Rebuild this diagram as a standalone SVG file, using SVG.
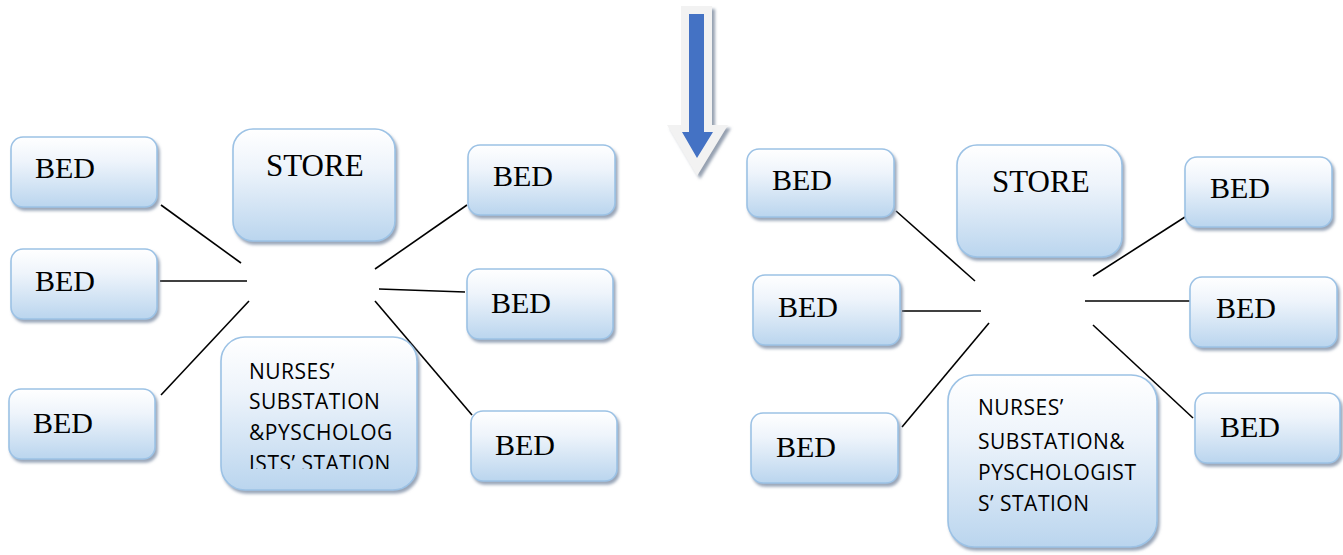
<svg xmlns="http://www.w3.org/2000/svg" width="1343" height="555" viewBox="0 0 1343 555">
<style>
.box{fill:url(#g);stroke:#9cc2e5;stroke-width:1.6;filter:url(#sh)}
.bed{font-family:"Liberation Serif","Times New Roman",serif;font-size:30px;fill:#000}
.store{font-family:"Liberation Serif","Times New Roman",serif;font-size:31px;fill:#000}
.ns{font-family:"Open Sans","Liberation Sans",sans-serif;font-size:21px;letter-spacing:0.5px;fill:#000}
.c line{stroke:#000;stroke-width:1.6}
</style>
<defs>
<linearGradient id="g" x1="0" y1="0" x2="0" y2="1">
<stop offset="0" stop-color="#ffffff"/>
<stop offset="0.35" stop-color="#eef4fb"/>
<stop offset="1" stop-color="#bad5ee"/>
</linearGradient>
<filter id="sh" x="-10%" y="-10%" width="125%" height="130%">
<feGaussianBlur in="SourceAlpha" stdDeviation="1.5"/>
<feOffset dx="2" dy="3" result="o"/>
<feFlood flood-color="#7f8fa6" flood-opacity="0.8"/>
<feComposite in2="o" operator="in"/>
<feMerge><feMergeNode/><feMergeNode in="SourceGraphic"/></feMerge>
</filter>
<filter id="ash" x="-20%" y="-10%" width="150%" height="130%">
<feGaussianBlur in="SourceAlpha" stdDeviation="1.5"/>
<feOffset dx="3" dy="3" result="o"/>
<feFlood flood-color="#8a96a8" flood-opacity="0.9"/>
<feComposite in2="o" operator="in"/>
<feMerge><feMergeNode/><feMergeNode in="SourceGraphic"/></feMerge>
</filter>
<clipPath id="clipL"><rect x="221" y="337" width="196" height="132"/></clipPath>
</defs>

<g id="arrow">
<path d="M681,6 H712 V125 H728 L697,176 L667,125 H681 Z" fill="#f2f2f2" filter="url(#ash)"/>
<path d="M689,14 H704 V132 H713 L697,158 L682,132 H689 Z" fill="#4472c4"/>
</g>

<g class="c" id="connectors">
<line x1="161" y1="205" x2="241" y2="263"/>
<line x1="160" y1="281" x2="247" y2="281"/>
<line x1="161" y1="395" x2="249" y2="301"/>
<line x1="375" y1="269" x2="467" y2="205"/>
<line x1="379" y1="289" x2="465" y2="292"/>
<line x1="375" y1="301" x2="472" y2="415"/>
<line x1="896" y1="211" x2="975" y2="281"/>
<line x1="902" y1="311" x2="981" y2="311"/>
<line x1="902" y1="427" x2="989" y2="323"/>
<line x1="1093" y1="276" x2="1185" y2="217"/>
<line x1="1085" y1="301" x2="1192" y2="301"/>
<line x1="1093" y1="325" x2="1193" y2="418"/>
</g>

<g id="l-bed1"><rect class="box" x="11" y="137" width="146" height="70" rx="12"/><text class="bed" x="35" y="178">BED</text></g>
<g id="l-bed2"><rect class="box" x="11" y="249" width="146" height="70" rx="12"/><text class="bed" x="35" y="291">BED</text></g>
<g id="l-bed3"><rect class="box" x="9" y="389" width="146" height="70" rx="12"/><text class="bed" x="33" y="433">BED</text></g>
<g id="l-store"><rect class="box" x="233" y="129" width="162" height="112" rx="20"/><text class="store" x="266" y="176">STORE</text></g>
<g id="l-nurses"><rect class="box" x="221" y="337" width="196" height="153" rx="24"/>
<g clip-path="url(#clipL)"><text class="ns" x="249" y="379">NURSES’</text><text class="ns" x="249" y="409">SUBSTATION</text><text class="ns" x="249" y="440">&amp;PYSCHOLOG</text><text class="ns" x="249" y="471">ISTS’ STATION</text></g></g>
<g id="l-bed4"><rect class="box" x="468" y="145" width="147" height="70" rx="12"/><text class="bed" x="493" y="186">BED</text></g>
<g id="l-bed5"><rect class="box" x="467" y="269" width="146" height="70" rx="12"/><text class="bed" x="491" y="313">BED</text></g>
<g id="l-bed6"><rect class="box" x="471" y="411" width="146" height="70" rx="12"/><text class="bed" x="495" y="455">BED</text></g>

<g id="r-bed1"><rect class="box" x="747" y="149" width="147" height="68" rx="12"/><text class="bed" x="772" y="190">BED</text></g>
<g id="r-bed2"><rect class="box" x="753" y="275" width="147" height="70" rx="12"/><text class="bed" x="778" y="317">BED</text></g>
<g id="r-bed3"><rect class="box" x="751" y="413" width="147" height="70" rx="12"/><text class="bed" x="776" y="457">BED</text></g>
<g id="r-store"><rect class="box" x="957" y="145" width="165" height="112" rx="20"/><text class="store" x="992" y="192">STORE</text></g>
<g id="r-nurses"><rect class="box" x="948" y="375" width="209" height="172" rx="26"/>
<text class="ns" x="978" y="415">NURSES’</text><text class="ns" x="978" y="449">SUBSTATION&amp;</text><text class="ns" x="978" y="480">PYSCHOLOGIST</text><text class="ns" x="978" y="511">S’ STATION</text></g>
<g id="r-bed4"><rect class="box" x="1185" y="157" width="147" height="70" rx="12"/><text class="bed" x="1210" y="198">BED</text></g>
<g id="r-bed5"><rect class="box" x="1190" y="277" width="147" height="70" rx="12"/><text class="bed" x="1216" y="318">BED</text></g>
<g id="r-bed6"><rect class="box" x="1195" y="393" width="145" height="70" rx="12"/><text class="bed" x="1220" y="437">BED</text></g>
</svg>
